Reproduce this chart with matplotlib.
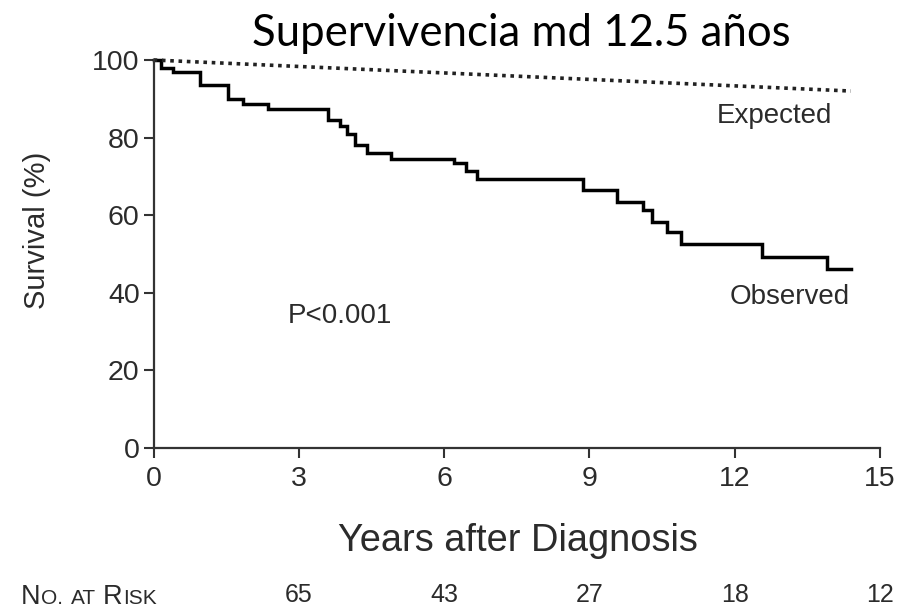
import matplotlib
matplotlib.use("Agg")
import matplotlib.pyplot as plt
from matplotlib import transforms

# ---- data ----
obs_years = [0, 0.15, 0.4, 0.95, 1.53, 1.84, 2.36, 3.6, 3.84, 4.0, 4.15, 4.4, 4.9,
             6.2, 6.45, 6.67, 8.87, 9.57, 10.1, 10.3, 10.6, 10.9, 12.56, 13.9, 14.4]
obs_surv = [100, 98, 97, 93.5, 90, 88.7, 87.4, 84.5, 83, 81, 78, 76, 74.5,
            73.4, 71.4, 69.3, 66.5, 63.5, 61.3, 58.2, 55.7, 52.6, 49.2, 46.1, 46.1]
exp_years = [0, 14.4]
exp_surv = [100, 92]
xticks = [0, 3, 6, 9, 12, 15]
yticks = [0, 20, 40, 60, 80, 100]
risk_years = [3, 6, 9, 12, 15]
risk_counts = [65, 43, 27, 18, 12]

plt.rcParams['font.family'] = ['Liberation Sans', 'DejaVu Sans']
txt = '#2b2b2b'

fig = plt.figure(figsize=(9, 6.11), dpi=100)
ax = fig.add_axes([0.1707, 0.2668, 0.807, 0.635])

ax.step(obs_years, obs_surv, where='post', color='black', lw=2.5, clip_on=False,
        solid_joinstyle='miter')
ax.plot(exp_years, exp_surv, color='#222222', lw=2.6, ls=(0, (1, 1.3)), clip_on=False)

ax.set_xlim(0, 15)
ax.set_ylim(0, 100)
ax.set_xticks(xticks)
ax.set_yticks(yticks)
for s in ['top', 'right']:
    ax.spines[s].set_visible(False)
for s in ['left', 'bottom']:
    ax.spines[s].set_linewidth(1.6)
    ax.spines[s].set_color('#333333')
ax.tick_params(direction='out', length=7, width=1.5, colors='#333333',
               labelsize=20.5, labelcolor=txt)
ax.tick_params(axis='x', pad=6)
ax.tick_params(axis='y', pad=3)


def fx(px):
    return px / 900.0


def fy(py):
    return 1 - py / 611.0


fig.text(fx(774), fy(116), 'Expected', fontsize=20, color=txt, ha='center', va='center')
fig.text(fx(790), fy(297), 'Observed', fontsize=20, color=txt, ha='center', va='center')
fig.text(fx(340), fy(316), 'P<0.001', fontsize=20, color=txt, ha='center', va='center')

fig.text(fx(518), fy(541), 'Years after Diagnosis', fontsize=27.4, color=txt,
         ha='center', va='center')
fig.text(fx(37), fy(230), 'Survival (%)', fontsize=21, color=txt,
         ha='center', va='center', rotation=90)

fig.text(fx(521), fy(33), 'Supervivencia md 12.5 años', fontsize=31.5, color='black',
         ha='center', va='center', family=['Lato', 'DejaVu Sans'])

# number at risk
tr = transforms.blended_transform_factory(ax.transData, fig.transFigure)
for xv, n in zip(risk_years, risk_counts):
    fig.text(xv, fy(595), str(n), transform=tr, fontsize=18, color=txt,
             ha='center', va='center')

# small-caps row label, pieces placed on a common baseline
parts = [('N', 19.5), ('O.', 15), (' ', 15), ('AT', 15), (' ', 15), ('R', 19.5), ('ISK', 15)]
renderer = fig.canvas.get_renderer()
xpix = 21.0
base = 604.0
for s, size in parts:
    if s.strip() == '':
        xpix += size * 100 / 72 * 0.3
        continue
    t = fig.text(fx(xpix), fy(base), s, fontsize=size, color=txt,
                 ha='left', va='baseline')
    w = t.get_window_extent(renderer=renderer).width
    xpix += w + 0.8

fig.savefig('out.png', dpi=100)
